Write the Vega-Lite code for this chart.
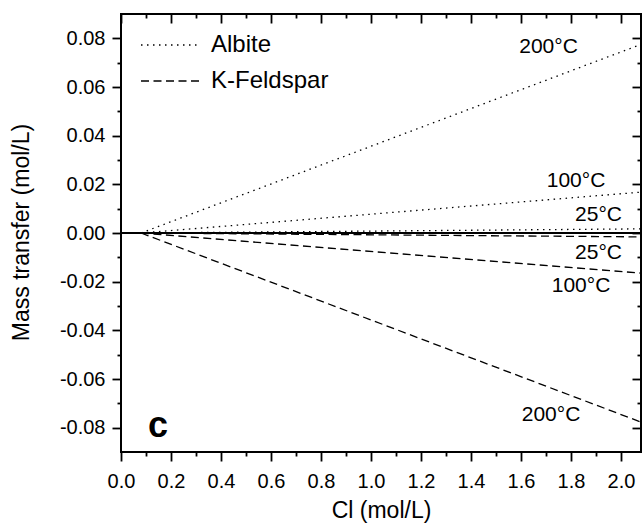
{
  "$schema": "https://vega.github.io/schema/vega-lite/v6.json",
  "width": 520,
  "height": 438,
  "autosize": {"type": "none"},
  "padding": {"left": 121, "top": 14, "right": 2, "bottom": 74},
  "background": "white",
  "config": {
    "font": "Liberation Sans",
    "view": {"stroke": "black", "strokeWidth": 2},
    "axis": {"domain": false, "grid": false, "tickColor": "black", "tickWidth": 1.8, "labelColor": "black", "titleColor": "black", "labelFont": "Liberation Sans", "titleFont": "Liberation Sans", "titleFontWeight": "normal"}
  },
  "datasets": {
    "lines": [
      {"mineral": "Albite", "T": "A25", "cl": 0.08, "mt": 0},
      {"mineral": "Albite", "T": "A25", "cl": 2.08, "mt": 0.0017},
      {"mineral": "Albite", "T": "A100", "cl": 0.08, "mt": 0},
      {"mineral": "Albite", "T": "A100", "cl": 2.08, "mt": 0.0168},
      {"mineral": "Albite", "T": "A200", "cl": 0.08, "mt": 0},
      {"mineral": "Albite", "T": "A200", "cl": 2.08, "mt": 0.0775},
      {"mineral": "K-Feldspar", "T": "K25", "cl": 0.08, "mt": 0},
      {"mineral": "K-Feldspar", "T": "K25", "cl": 2.08, "mt": -0.0016},
      {"mineral": "K-Feldspar", "T": "K100", "cl": 0.08, "mt": 0},
      {"mineral": "K-Feldspar", "T": "K100", "cl": 2.08, "mt": -0.0165},
      {"mineral": "K-Feldspar", "T": "K200", "cl": 0.08, "mt": 0},
      {"mineral": "K-Feldspar", "T": "K200", "cl": 2.08, "mt": -0.0777}
    ],
    "labels": [
      {"label": "200°C", "cl": 1.71, "mt": 0.0765},
      {"label": "100°C", "cl": 1.82, "mt": 0.0214},
      {"label": "25°C", "cl": 1.91, "mt": 0.0074},
      {"label": "25°C", "cl": 1.91, "mt": -0.0082},
      {"label": "100°C", "cl": 1.84, "mt": -0.0218},
      {"label": "200°C", "cl": 1.72, "mt": -0.0748}
    ],
    "panel": [
      {"label": "c", "cl": 0.148, "mt": -0.0838}
    ]
  },
  "layer": [
    {
      "data": {"values": [{"zero": 0}]},
      "mark": {"type": "rule", "color": "black", "strokeWidth": 2},
      "encoding": {
        "y": {"field": "zero", "type": "quantitative", "axis": null}
      }
    },
    {
      "data": {"name": "lines"},
      "mark": {"type": "line", "color": "black", "strokeWidth": 1.3, "clip": true},
      "encoding": {
        "x": {
          "field": "cl", "type": "quantitative",
          "scale": {"domain": [0, 2.08], "nice": false, "zero": false},
          "axis": {
            "orient": "bottom",
            "values": [0, 0.1, 0.2, 0.3, 0.4, 0.5, 0.6, 0.7, 0.8, 0.9, 1.0, 1.1, 1.2, 1.3, 1.4, 1.5, 1.6, 1.7, 1.8, 1.9, 2.0],
            "labelExpr": "round(datum.value*10)%2==0 ? format(datum.value,'.1f') : ''",
            "tickSize": {"condition": {"test": "round(datum.value*10)%2==0", "value": 9}, "value": 4},
            "labelFontSize": 20,
            "labelPadding": 10,
            "labelFlush": false,
            "labelOverlap": false,
            "title": "Cl (mol/L)",
            "titleFontSize": 23,
            "titleY": 47
          }
        },
        "y": {
          "field": "mt", "type": "quantitative",
          "scale": {"domain": [-0.09, 0.09], "nice": false, "zero": false},
          "axis": {
            "orient": "left",
            "values": [-0.08, -0.07, -0.06, -0.05, -0.04, -0.03, -0.02, -0.01, 0, 0.01, 0.02, 0.03, 0.04, 0.05, 0.06, 0.07, 0.08],
            "labelExpr": "abs(round(datum.value*100))%2==0 ? (datum.value < -0.0001 ? '-' : '') + format(abs(datum.value),'.2f') : ''",
            "tickSize": {"condition": {"test": "abs(round(datum.value*100))%2==0", "value": 9}, "value": 4},
            "labelFontSize": 20,
            "labelPadding": 7,
            "labelFlush": false,
            "labelOverlap": false,
            "title": "Mass transfer (mol/L)",
            "titleFontSize": 23,
            "titleX": -88,
            "titleY": 218
          }
        },
        "strokeDash": {
          "field": "mineral", "type": "nominal",
          "scale": {"domain": ["Albite", "K-Feldspar"], "range": [[1.5, 4.5], [8, 4.5]]},
          "legend": {
            "orient": "none",
            "legendX": 38,
            "legendY": 19,
            "padding": 0,
            "title": null,
            "symbolType": "M-3,0H3",
            "symbolSize": 400,
            "symbolStrokeWidth": 1.3,
            "symbolStrokeColor": "black",
            "symbolFillColor": "transparent",
            "labelFontSize": 24,
            "labelColor": "black",
            "labelOffset": 28,
            "rowPadding": 12
          }
        },
        "detail": {"field": "T", "type": "nominal"}
      }
    },
    {
      "data": {"name": "lines"},
      "mark": {"type": "point", "opacity": 0},
      "encoding": {
        "x": {
          "field": "cl", "type": "quantitative",
          "scale": {"domain": [0, 2.08], "nice": false, "zero": false},
          "axis": {
            "orient": "top",
            "values": [0, 0.1, 0.2, 0.3, 0.4, 0.5, 0.6, 0.7, 0.8, 0.9, 1.0, 1.1, 1.2, 1.3, 1.4, 1.5, 1.6, 1.7, 1.8, 1.9, 2.0],
            "labels": false,
            "tickSize": {"condition": {"test": "round(datum.value*10)%2==0", "value": -9}, "value": -4},
            "title": null
          }
        },
        "y": {
          "field": "mt", "type": "quantitative",
          "scale": {"domain": [-0.09, 0.09], "nice": false, "zero": false},
          "axis": {
            "orient": "right",
            "values": [-0.08, -0.07, -0.06, -0.05, -0.04, -0.03, -0.02, -0.01, 0, 0.01, 0.02, 0.03, 0.04, 0.05, 0.06, 0.07, 0.08],
            "labels": false,
            "tickSize": {"condition": {"test": "abs(round(datum.value*100))%2==0", "value": -9}, "value": -4},
            "title": null
          }
        }
      }
    },
    {
      "data": {"name": "labels"},
      "mark": {"type": "text", "fontSize": 21, "color": "black", "align": "center", "baseline": "middle", "font": "Liberation Sans"},
      "encoding": {
        "x": {"field": "cl", "type": "quantitative", "axis": null},
        "y": {"field": "mt", "type": "quantitative", "axis": null},
        "text": {"field": "label"}
      }
    },
    {
      "data": {"name": "panel"},
      "mark": {"type": "text", "fontSize": 36, "fontWeight": "bold", "color": "black", "align": "center", "baseline": "alphabetic", "font": "Liberation Sans"},
      "encoding": {
        "x": {"field": "cl", "type": "quantitative", "axis": null},
        "y": {"field": "mt", "type": "quantitative", "axis": null},
        "text": {"field": "label"}
      }
    }
  ],
  "resolve": {"axis": {"x": "independent", "y": "independent"}}
}
